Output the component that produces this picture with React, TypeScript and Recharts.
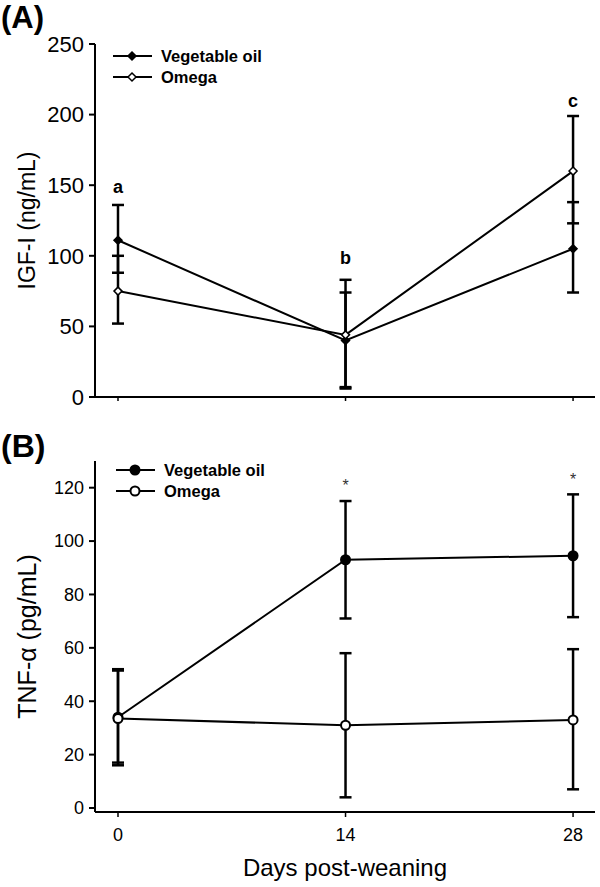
import React from 'react';
import { LineChart, Line, XAxis, YAxis, ErrorBar, Legend, LabelList } from 'recharts';

// days post-weaning
const days = [0, 14, 28];

// (A) IGF-I, ng/mL
const igfVeg = [111, 40, 105];
const igfVegErr: [number, number][] = [[23, 25], [33, 34], [31, 33]];
const igfOmega = [75, 44, 160];
const igfOmegaErr: [number, number][] = [[23, 25], [38, 39], [37, 39]];
const igfLetters = ['a', 'b', 'c'];
const igfLetterY = [149, 99, 210];

// (B) TNF-alpha, pg/mL
const tnfVeg = [34, 93, 94.5];
const tnfVegErr: [number, number][] = [[18, 18], [22, 22], [23, 23]];
const tnfOmega = [33.5, 31, 33];
const tnfOmegaErr: [number, number][] = [[16.5, 18], [27, 27], [26, 26.5]];
const tnfStars = ['', '*', '*'];
const tnfStarY = [0, 121, 123];

const igfTicks = [0, 50, 100, 150, 200, 250];
const tnfTicks = [0, 20, 40, 60, 80, 100, 120];

const FONT = '"Liberation Sans", Arial, sans-serif';

const igfData = days.map((d, i) => ({
  day: d,
  veg: igfVeg[i],
  vegErr: igfVegErr[i],
  omega: igfOmega[i],
  omegaErr: igfOmegaErr[i],
  letter: igfLetters[i],
  letterY: igfLetterY[i],
}));

const tnfData = days.map((d, i) => ({
  day: d,
  veg: tnfVeg[i],
  vegErr: tnfVegErr[i],
  omega: tnfOmega[i],
  omegaErr: tnfOmegaErr[i],
  star: tnfStars[i],
  starY: tnfStars[i] ? tnfStarY[i] : null,
}));

function Diamond(props: any) {
  const { cx, cy, fill } = props;
  if (cx == null || cy == null) return null;
  const s = 4;
  return (
    <path
      d={`M${cx},${cy - s}L${cx + s},${cy}L${cx},${cy + s}L${cx - s},${cy}Z`}
      fill={fill}
      stroke="#000"
      strokeWidth={1.5}
    />
  );
}

function Circle(props: any) {
  const { cx, cy, fill } = props;
  if (cx == null || cy == null) return null;
  return <circle cx={cx} cy={cy} r={4.5} fill={fill} stroke="#000" strokeWidth={2} />;
}

function LegendBox({ shape, fontSize }: { shape: 'diamond' | 'circle'; fontSize: number }) {
  const rows = [
    { name: 'Vegetable oil', fill: '#000' },
    { name: 'Omega', fill: '#fff' },
  ];
  return (
    <svg width={180} height={44}>
      {rows.map((r, i) => {
        const y = 10 + i * 21;
        return (
          <g key={r.name}>
            <line x1={2} x2={41} y1={y} y2={y} stroke="#000" strokeWidth={2} />
            {shape === 'diamond' ? (
              <Diamond cx={21} cy={y} fill={r.fill} />
            ) : (
              <Circle cx={21} cy={y} fill={r.fill} />
            )}
            <text x={50} y={y + 6} fontSize={fontSize} fontWeight="bold" fontFamily={FONT} fill="#000">
              {r.name}
            </text>
          </g>
        );
      })}
    </svg>
  );
}

function yTitle(text: string, size: number) {
  return (props: any) => {
    const vb = props.viewBox;
    const cx = 27;
    const cy = vb.y + vb.height / 2;
    return (
      <text
        x={cx}
        y={cy}
        transform={`rotate(-90, ${cx}, ${cy})`}
        textAnchor="middle"
        dominantBaseline="central"
        fontSize={size}
        fontFamily={FONT}
        fill="#000"
      >
        {text}
      </text>
    );
  };
}

function xTitle(props: any) {
  const vb = props.viewBox;
  return (
    <text
      x={vb.x + vb.width / 2}
      y={vb.y + vb.height - 11}
      textAnchor="middle"
      fontSize={24}
      fontFamily={FONT}
      fill="#000"
    >
      Days post-weaning
    </text>
  );
}

const axisLine = { stroke: '#000', strokeWidth: 2 };
const tickLine = { stroke: '#000', strokeWidth: 2 };
const xDomain = [-1.415, 29.35];

export default function App() {
  return (
    <div style={{ position: 'absolute', left: 0, top: 0, width: 600, height: 887, background: '#fff', fontFamily: FONT }}>
      <div style={{ position: 'absolute', left: 1, top: 1, fontSize: 31, fontWeight: 'bold', lineHeight: '34px' }}>(A)</div>
      <div style={{ position: 'absolute', left: 1, top: 429, fontSize: 32, fontWeight: 'bold', lineHeight: '34px' }}>(B)</div>

      <div style={{ position: 'absolute', left: 0, top: 0 }}>
        <LineChart width={600} height={420} data={igfData} margin={{ top: 44, right: 5, left: 0, bottom: 3 }}>
          <XAxis
            type="number"
            dataKey="day"
            domain={xDomain}
            ticks={days}
            tickFormatter={() => ''}
            axisLine={axisLine}
            tickLine={{ stroke: '#000', strokeWidth: 1.5 }}
            tickSize={4}
            height={20}
          />
          <YAxis
            domain={[0, 250]}
            ticks={igfTicks}
            width={95}
            axisLine={axisLine}
            tickLine={tickLine}
            tickSize={6}
            tickMargin={5}
            tick={{ fontSize: 22, fill: '#000', fontFamily: FONT }}
            label={{ content: yTitle('IGF-I (ng/mL)', 23) }}
          />
          <Legend
            layout="horizontal"
            verticalAlign="middle"
            align="center"
            content={() => <LegendBox shape="diamond" fontSize={16.5} />}
            wrapperStyle={{ position: 'absolute', left: 111, top: 46, width: 180 }}
          />
          <Line dataKey="veg" stroke="#000" strokeWidth={2} dot={<Diamond fill="#000" />} isAnimationActive={false}>
            <ErrorBar dataKey="vegErr" width={6} strokeWidth={2.5} stroke="#000" direction="y" isAnimationActive={false} />
          </Line>
          <Line dataKey="omega" stroke="#000" strokeWidth={2} dot={<Diamond fill="#fff" />} isAnimationActive={false}>
            <ErrorBar dataKey="omegaErr" width={6} strokeWidth={2.5} stroke="#000" direction="y" isAnimationActive={false} />
          </Line>
          <Line dataKey="letterY" stroke="none" dot={false} activeDot={false} legendType="none" isAnimationActive={false}>
            <LabelList dataKey="letter" position="center" fontSize={18} fontWeight="bold" fill="#000" fontFamily={FONT} />
          </Line>
        </LineChart>
      </div>

      <div style={{ position: 'absolute', left: 0, top: 420 }}>
        <LineChart width={600} height={467} data={tnfData} margin={{ top: 41, right: 5, left: 0, bottom: 0 }}>
          <XAxis
            type="number"
            dataKey="day"
            domain={xDomain}
            ticks={days}
            axisLine={axisLine}
            tickLine={{ stroke: '#000', strokeWidth: 1.5 }}
            tickSize={5}
            tickMargin={11}
            tick={{ fontSize: 18, fill: '#000', fontFamily: FONT }}
            height={75}
            label={{ content: xTitle }}
          />
          <YAxis
            domain={[-1.5, 130]}
            ticks={tnfTicks}
            width={95}
            axisLine={axisLine}
            tickLine={tickLine}
            tickSize={6}
            tickMargin={5}
            tick={{ fontSize: 18, fill: '#000', fontFamily: FONT }}
            label={{ content: yTitle('TNF-α (pg/mL)', 25) }}
          />
          <Legend
            layout="horizontal"
            verticalAlign="middle"
            align="center"
            content={() => <LegendBox shape="circle" fontSize={16.5} />}
            wrapperStyle={{ position: 'absolute', left: 114, top: 40, width: 180 }}
          />
          <Line dataKey="veg" stroke="#000" strokeWidth={2} dot={<Circle fill="#000" />} isAnimationActive={false}>
            <ErrorBar dataKey="vegErr" width={6} strokeWidth={2.5} stroke="#000" direction="y" isAnimationActive={false} />
          </Line>
          <Line dataKey="omega" stroke="#000" strokeWidth={2} dot={<Circle fill="#fff" />} isAnimationActive={false}>
            <ErrorBar dataKey="omegaErr" width={6} strokeWidth={2.5} stroke="#000" direction="y" isAnimationActive={false} />
          </Line>
          <Line dataKey="starY" stroke="none" dot={false} activeDot={false} legendType="none" isAnimationActive={false}>
            <LabelList dataKey="star" position="center" fontSize={16} fill="#333" fontFamily={FONT} />
          </Line>
        </LineChart>
      </div>
    </div>
  );
}
